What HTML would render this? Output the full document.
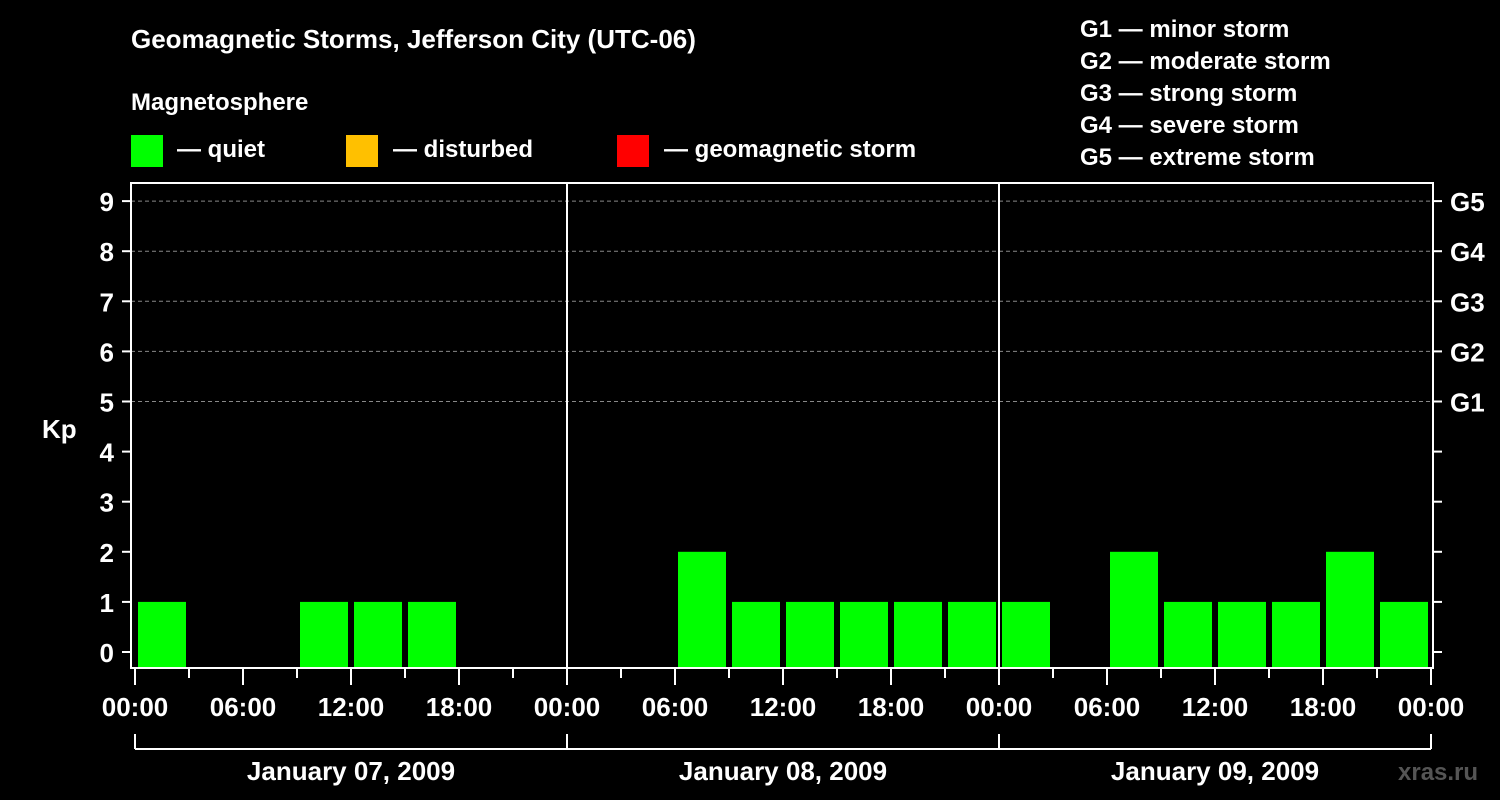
<!DOCTYPE html>
<html><head><meta charset="utf-8"><style>
body{margin:0;background:#000;}
svg{display:block;font-family:"Liberation Sans",Arial,sans-serif;font-weight:bold;}
</style></head><body>
<svg id="chart" width="1500" height="800" viewBox="0 0 1500 800">
<rect width="1500" height="800" fill="#000"/>
<text x="131" y="48" fill="#fff" font-size="26">Geomagnetic Storms, Jefferson City (UTC-06)</text>
<text x="131" y="110" fill="#fff" font-size="24">Magnetosphere</text>
<g font-size="24" fill="#fff">
<rect x="131" y="135" width="32" height="32" fill="#00ff00"/>
<text x="177" y="157">— quiet</text>
<rect x="346" y="135" width="32" height="32" fill="#ffc000"/>
<text x="393" y="157">— disturbed</text>
<rect x="617" y="135" width="32" height="32" fill="#ff0000"/>
<text x="664" y="157">— geomagnetic storm</text>
</g>
<g font-size="24" fill="#fff">
<text x="1080" y="37">G1 — minor storm</text>
<text x="1080" y="69">G2 — moderate storm</text>
<text x="1080" y="101">G3 — strong storm</text>
<text x="1080" y="133">G4 — severe storm</text>
<text x="1080" y="165">G5 — extreme storm</text>
</g>
<g id="grid"></g>
<g id="bars"></g>
<g id="axes"></g>
<text x="42" y="438" fill="#fff" font-size="26">Kp</text>
<text x="1398" y="780" fill="#555" font-size="24">xras.ru</text>
</svg>
<script>
const days = ["January 07, 2009","January 08, 2009","January 09, 2009"];
const kpValues = [1,0,0,1,1,1,0,0, 0,0,2,1,1,1,1,1, 1,0,2,1,1,1,2,1];
const yTicks = [0,1,2,3,4,5,6,7,8,9];
const gLabels = ["G1","G2","G3","G4","G5"];
const hourLabels = ["00:00","06:00","12:00","18:00"];

const NS="http://www.w3.org/2000/svg";
const L=131,R=1433,T=183,B=668,X0=135,DAYW=432;
const yScale=v=>652-v*50.1;
const xScale=h=>X0+h*(DAYW/24);
function mk(tag,attrs,parent){const e=document.createElementNS(NS,tag);for(const k in attrs)e.setAttribute(k,attrs[k]);parent.appendChild(e);return e;}
const grid=document.getElementById('grid'),bars=document.getElementById('bars'),axes=document.getElementById('axes');

// grid lines for G levels
gLabels.forEach((g,i)=>{
  const y=yScale(5+i);
  const l=mk('line',{x1:L,x2:R,y1:y,y2:y,stroke:'#888','stroke-dasharray':'4,3','stroke-width':1},grid);
  
  
  const t=mk('text',{x:1450,y:y+10,fill:'#fff','font-size':26},axes);
  t.textContent=g;
  
  
});

// bars
kpValues.forEach((v,i)=>{
  if(v<=0)return;
  const x=xScale(i*3)+3,w=xScale(3)-X0-6,y=yScale(v);
  const r=mk('rect',{x:x,y:y,width:w,height:B-1-y,fill:v>=5?'#ff0000':(v>=4?'#ffc000':'#00ff00')},bars);
  
  
});

// frame
const f=mk('rect',{x:L,y:T,width:R-L,height:B-T,fill:'none',stroke:'#fff','stroke-width':2},axes);


// day separators
for(let d=1;d<days.length;d++){
  const x=xScale(d*24);
  const l=mk('line',{x1:x,x2:x,y1:T,y2:B,stroke:'#fff','stroke-width':2},axes);
  
  
}
// y ticks
yTicks.forEach(v=>{
  const y=yScale(v);
  mk('line',{x1:122,x2:L,y1:y,y2:y,stroke:'#fff','stroke-width':2},axes);
  mk('line',{x1:R,x2:R+9,y1:y,y2:y,stroke:'#fff','stroke-width':2},axes);
  const t=mk('text',{x:114,y:y+10,fill:'#fff','font-size':26,'text-anchor':'end'},axes);
  t.textContent=v;
  
  
});
// x ticks
for(let h=0;h<=days.length*24;h+=3){
  const x=xScale(h),major=h%6===0;
  mk('line',{x1:x,x2:x,y1:B,y2:major?685:678,stroke:'#fff','stroke-width':2},axes);
  if(major){
    const t=mk('text',{x:x,y:716,fill:'#fff','font-size':26,'text-anchor':'middle'},axes);
    t.textContent=hourLabels[(h/6)%4];
    
    
  }
}
// day brackets
const bl=mk('line',{x1:xScale(0),x2:xScale(days.length*24),y1:749,y2:749,stroke:'#fff','stroke-width':2},axes);


days.forEach((d,i)=>{
  const x=xScale(i*24);
  mk('line',{x1:x,x2:x,y1:734,y2:749,stroke:'#fff','stroke-width':2},axes);
  const t=mk('text',{x:x+DAYW/2,y:780,fill:'#fff','font-size':26,'text-anchor':'middle'},axes);
  t.textContent=d;
  
  
});
mk('line',{x1:xScale(days.length*24),x2:xScale(days.length*24),y1:734,y2:749,stroke:'#fff','stroke-width':2},axes);
</script>
</body></html>
